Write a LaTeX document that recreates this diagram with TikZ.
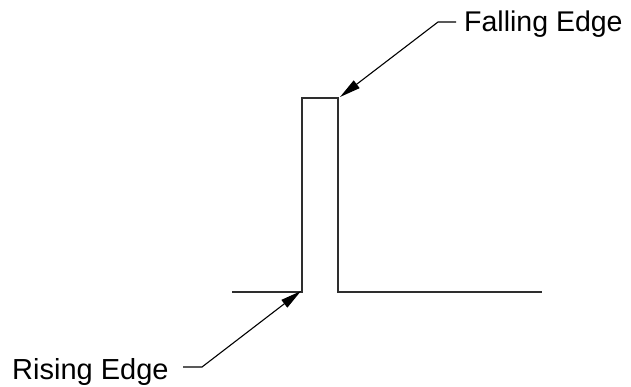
\documentclass[tikz,border=0pt]{standalone}
\usepackage{fontspec}
\setmainfont{Liberation Sans}
\usetikzlibrary{arrows.meta}
\begin{document}
\begin{tikzpicture}[x=1pt,y=-1pt,
  signal/.style={line width=2.9pt,draw=black!82,line join=miter},
  leader/.style={line width=1.1pt,draw=black,-{Triangle[length=21pt,width=9.5pt]}},
  lbl/.style={inner sep=0pt}]
\useasboundingbox (0,0) rectangle (631,387);
% signal waveform
\coordinate (s0) at (232,292);
\coordinate (rise) at (302,292);
\coordinate (top1) at (302,98);
\coordinate (fall) at (338,98);
\coordinate (low2) at (338,292);
\coordinate (s1) at (542,292);
\draw[signal] (s0) -- (rise) -- (top1) -- (fall) -- (low2) -- (s1);
% labels
\node[lbl,anchor=base west,font=\fontsize{28.5}{32}\selectfont] (fe) at (464,32) {Falling Edge};
\node[lbl,anchor=base west,font=\fontsize{29}{33}\selectfont] (re) at (12,379) {Rising Edge};
\coordinate (fs) at (456,22);
\coordinate (fk) at (438,22);
\coordinate (rs) at (183,367);
\coordinate (rk) at (202,367);
\coordinate (ftip) at (340,97);
\coordinate (rtip) at (301,291);
\draw[leader] (fs) -- (fk) -- (ftip);
\draw[leader] (rs) -- (rk) -- (rtip);
\end{tikzpicture}
\end{document}
